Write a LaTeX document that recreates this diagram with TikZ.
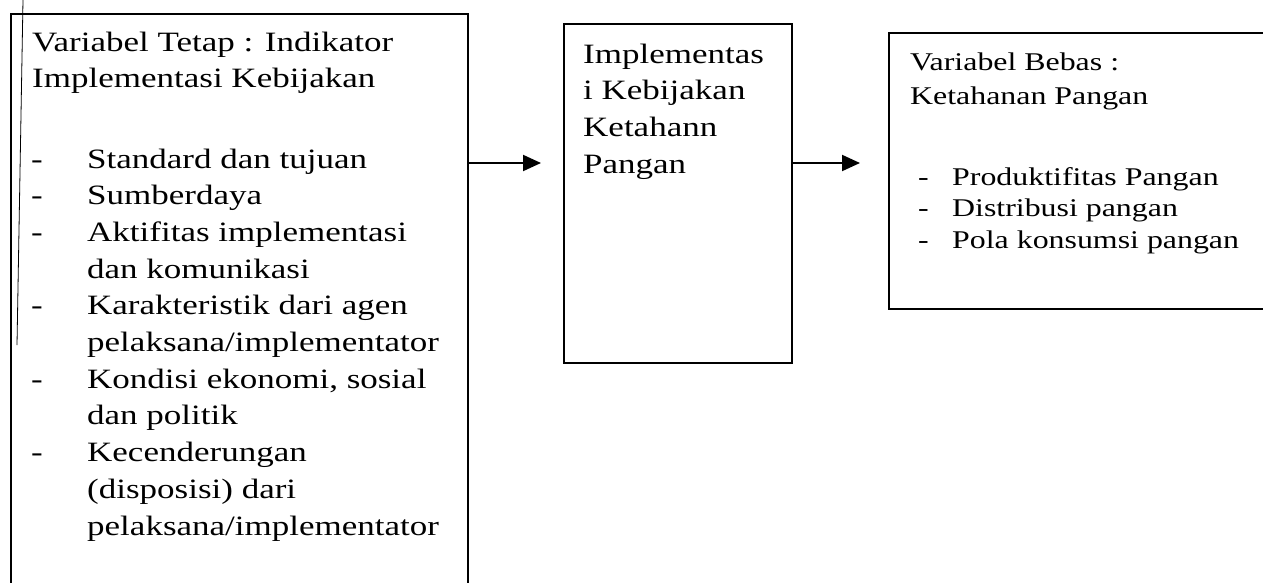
\documentclass[tikz,border=0pt]{standalone}
\usepackage{fontspec}
\setmainfont{Liberation Serif}[FakeStretch=1.25]
\usetikzlibrary{arrows.meta}

\newcommand{\lines}[1]{\begin{tabular}[t]{@{}l@{}}#1\end{tabular}}

\begin{document}
\begin{tikzpicture}[x=1pt,y=-1pt,
  frame/.style={draw=black, line width=2.2pt, rectangle, inner sep=0pt, anchor=north west},
  txt/.style={inner sep=0pt, anchor=base west},
  bigtext/.style={txt, font={\fontsize{28}{36.7}\selectfont}},
  smalltext/.style={txt, font={\fontsize{25.5}{31.5}\selectfont}},
  flow/.style={line width=2pt, -{Triangle[length=18pt,width=16pt]}}
]
\useasboundingbox (0,0) rectangle (1263,582);
\clip (0,0) rectangle (1263,582);

% the three boxes (left one runs off the bottom, right one off the right side)
\node[frame, minimum width=457pt, minimum height=620pt] (varfix) at (10,13) {};
\node[frame, minimum width=228pt, minimum height=339pt] (impl) at (563,23) {};
\node[frame, minimum width=420pt, minimum height=276pt] (varfree) at (888,32) {};

% thin margin rule along the left edge
\coordinate (rtop) at (23,0);
\coordinate (rbot) at (17,345);
\draw[line width=0.8pt] (rtop) -- (rbot);

% left box: heading and indicator list
\node[bigtext] (fixhead) at (32,51)
  {\lines{Variabel Tetap : Indikator\\Implementasi Kebijakan}};
\node[bigtext] (fixlist) at (31,168) {\begin{tabular}[t]{@{}p{56pt}@{}l@{}}
- & Standard dan tujuan\\
- & Sumberdaya\\
- & Aktifitas implementasi\\
  & dan komunikasi\\
- & Karakteristik dari agen\\
  & pelaksana/implementator\\
- & Kondisi ekonomi, sosial\\
  & dan politik\\
- & Kecenderungan\\
  & (disposisi) dari\\
  & pelaksana/implementator
\end{tabular}};

% middle box
\node[bigtext] (impltext) at (583,63)
  {\lines{Implementas\\i Kebijakan\\Ketahann\\Pangan}};

% right box: heading and list
\node[txt, font={\fontsize{25.5}{34.5}\selectfont}] (freehead) at (910,70)
  {\lines{Variabel Bebas :\\Ketahanan Pangan}};
\node[smalltext] (freelist) at (918,185) {\begin{tabular}[t]{@{}p{34pt}@{}l@{}}
- & Produktifitas Pangan\\
- & Distribusi pangan\\
- & Pola konsumsi pangan
\end{tabular}};

% connectors
\coordinate (ay) at (0,163);
\draw[flow, shorten >=22pt] (varfix.east |- ay) -- (impl.west |- ay);
\draw[flow, shorten >=28pt] (impl.east |- ay) -- (varfree.west |- ay);
\end{tikzpicture}
\end{document}
